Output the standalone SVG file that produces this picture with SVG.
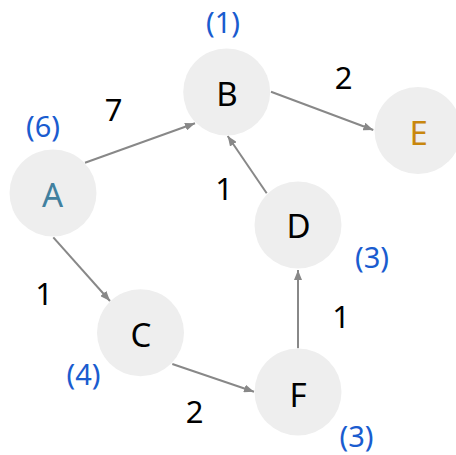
<svg xmlns="http://www.w3.org/2000/svg" width="456" height="455" viewBox="0 0 456 455">
  <style>
    .node circle { fill: #eeeeee; }
    .name { font-family: "Noto Sans", "Open Sans", sans-serif; font-size: 33px; text-anchor: middle; fill: #000000; }
    .w { font-family: "Noto Sans", "Open Sans", sans-serif; font-size: 31px; text-anchor: middle; fill: #000000; }
    .d { font-family: "Noto Sans", "Open Sans", sans-serif; font-size: 29px; text-anchor: middle; fill: #1a5ccf; }
    .edges line { stroke: #888888; stroke-width: 2; marker-end: url(#arrow); }
  </style>
  <defs>
    <marker id="arrow" viewBox="0 0 10 8" refX="10" refY="4" markerWidth="10" markerHeight="8" markerUnits="userSpaceOnUse" orient="auto">
      <path d="M0,0 L10,4 L0,8 z" fill="#888888"/>
    </marker>
  </defs>

  <rect width="456" height="455" fill="#ffffff"/>

  <g id="edges" class="edges">
    <line x1="85" y1="162.7" x2="195" y2="123.3"/>
    <line x1="271" y1="91.7" x2="373.3" y2="130"/>
    <line x1="266.7" y1="193.3" x2="227.7" y2="136"/>
    <line x1="53.3" y1="237.3" x2="110" y2="301"/>
    <line x1="172.3" y1="364" x2="254" y2="391.7"/>
    <line x1="298" y1="348.3" x2="298" y2="270"/>
  </g>

  <g id="edge-labels">
    <text class="w" x="113.5" y="120.7">7</text>
    <text class="w" x="343.6" y="89">2</text>
    <text class="w" x="224" y="200">1</text>
    <text class="w" x="44" y="305">1</text>
    <text class="w" x="341" y="328">1</text>
    <text class="w" x="194.5" y="423">2</text>
  </g>

  <g id="node-B" class="node">
    <circle cx="226.7" cy="92" r="43.5"/>
    <text class="name" x="227" y="105.7">B</text>
    <text class="d" x="223" y="33.3">(1)</text>
  </g>

  <g id="node-E" class="node">
    <circle cx="418" cy="130.5" r="43.5"/>
    <text class="name" x="418.7" y="145" style="fill:#c8860d">E</text>
  </g>

  <g id="node-A" class="node">
    <circle cx="53" cy="193" r="43.5"/>
    <text class="name" x="52.5" y="207" style="fill:#41809f">A</text>
    <text class="d" x="43" y="136.7">(6)</text>
  </g>

  <g id="node-D" class="node">
    <circle cx="298" cy="225" r="43.5"/>
    <text class="name" x="298.5" y="238.3">D</text>
    <text class="d" x="372" y="267.7">(3)</text>
  </g>

  <g id="node-C" class="node">
    <circle cx="140.5" cy="332.7" r="43.5"/>
    <text class="name" x="141" y="346.7">C</text>
    <text class="d" x="83.5" y="385">(4)</text>
  </g>

  <g id="node-F" class="node">
    <circle cx="298" cy="392" r="43.5"/>
    <text class="name" x="298" y="406.7">F</text>
    <text class="d" x="356.5" y="447">(3)</text>
  </g>
</svg>
